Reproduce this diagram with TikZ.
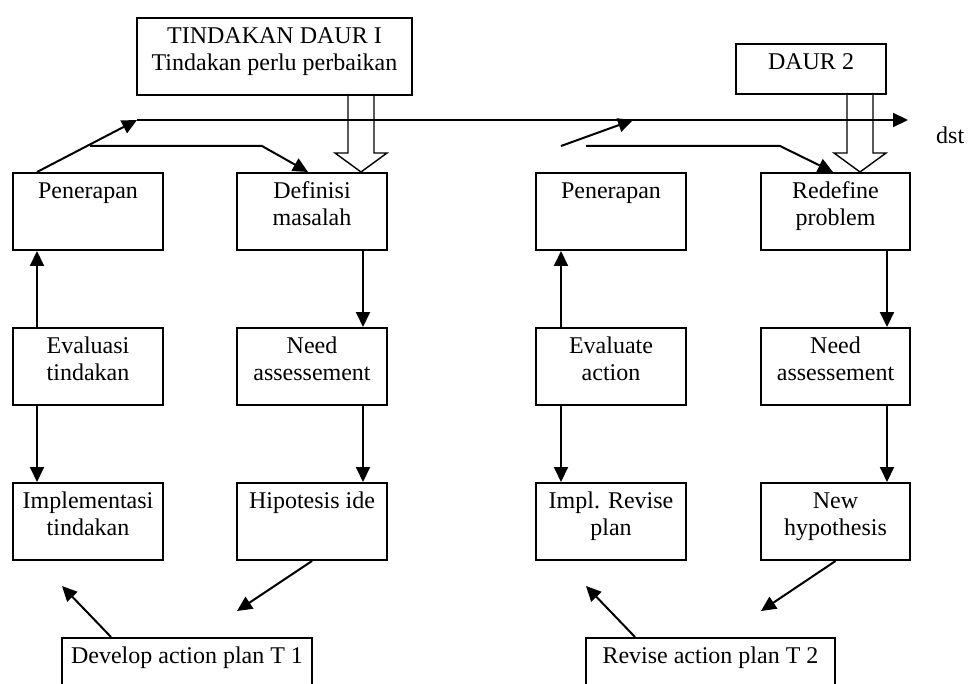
\documentclass[tikz,border=0pt]{standalone}
\usepackage{fontspec}
\setmainfont{Liberation Serif}
\usetikzlibrary{arrows.meta}
\newcommand{\bx}[3]{\parbox[t][#2pt][t]{#1pt}{\vspace*{7pt}\centering\strut #3\par}}
\tikzset{
  box/.style={draw, line width=2pt, inner sep=0pt, anchor=north west,
    font=\fontsize{24}{27}\selectfont},
  arr/.style={line width=2pt, -{Triangle[length=15pt,width=14pt]}},
  ln/.style={line width=2pt},
  hollow/.style={line width=1.4pt, line join=miter},
  lbl/.style={inner sep=0pt, font=\fontsize{24}{27}\selectfont}
}
\begin{document}
\begin{tikzpicture}[x=1pt,y=-1pt]
\clip (0,0) rectangle (976,684);
\fill[white] (0,0) rectangle (976,684);
% top boxes
\node[box] (daur1) at (136,17) {\bx{275}{77}{TINDAKAN DAUR I\\Tindakan perlu perbaikan}};
\node[box] (daur2) at (735,43) {\bx{150}{50}{DAUR 2}};
% cycle 1
\node[box] (pen1) at (12,172) {\bx{150}{77}{Penerapan}};
\node[box] (ev1) at (12,327) {\bx{150}{77}{Evaluasi\\tindakan}};
\node[box] (imp1) at (12,482) {\bx{150}{77}{Implementasi\\tindakan}};
\node[box] (def1) at (236,172) {\bx{150}{77}{Definisi\\masalah}};
\node[box] (need1) at (236,327) {\bx{150}{77}{Need\\assessement}};
\node[box] (hip1) at (236,482) {\bx{150}{77}{Hipotesis ide}};
\node[box] (dev) at (61,637) {\bx{250}{77}{Develop action plan T 1}};
% cycle 2
\node[box] (pen2) at (535,172) {\bx{150}{77}{Penerapan}};
\node[box] (ev2) at (535,327) {\bx{150}{77}{Evaluate\\action}};
\node[box] (imp2) at (535,482) {\bx{150}{77}{Impl. Revise\\plan}};
\node[box] (red2) at (760,172) {\bx{149}{77}{Redefine\\problem}};
\node[box] (need2) at (760,327) {\bx{149}{77}{Need\\assessement}};
\node[box] (hyp2) at (760,482) {\bx{149}{77}{New\\hypothesis}};
\node[box] (rev) at (585,637) {\bx{249}{77}{Revise action plan T 2}};
\node[lbl, anchor=base west] (dst) at (936,144) {dst};
% coordinates
\coordinate (l1) at (137,120);
\coordinate (lend) at (908,120);
\coordinate (m1) at (90,146);
\coordinate (m2) at (262,146);
\coordinate (r0) at (561,146);
\coordinate (r1) at (633,120);
\coordinate (n1) at (586,146);
\coordinate (n2) at (780,146);
\coordinate (t1) at (62,586);
\coordinate (t2) at (237,611);
\coordinate (t3) at (586,586);
\coordinate (t4) at (761,611);
% top line and arrows
\draw[arr] ([xshift=25pt]pen1.north west) -- (l1);
\draw[arr] (l1) -- (lend);
\draw[arr] (m1) -- (m2) -- ([xshift=72pt]def1.north west);
\draw[arr] (r0) -- (r1);
\draw[arr] (n1) -- (n2) -- ([xshift=73pt]red2.north west);
% hollow arrows
\path ([xshift=125pt]def1.north west) coordinate (h1);
\draw[hollow] (h1) ++(-13,-78) -- ++(0,59) -- ++(-13,0) -- (h1) -- ++(26,-19) -- ++(-13,0) -- ++(0,-59);
\path ([xshift=100pt]red2.north west) coordinate (h2);
\draw[hollow] (h2) ++(-13,-79) -- ++(0,60) -- ++(-13,0) -- (h2) -- ++(26,-19) -- ++(-13,0) -- ++(0,-60);
% vertical arrows cycle 1
\draw[arr] ([xshift=25pt]ev1.north west) -- ([xshift=25pt]pen1.south west);
\draw[arr] ([xshift=25pt]ev1.south west) -- ([xshift=25pt]imp1.north west);
\draw[arr] ([xshift=-25pt]def1.south east) -- ([xshift=-25pt]need1.north east);
\draw[arr] ([xshift=-25pt]need1.south east) -- ([xshift=-25pt]hip1.north east);
% vertical arrows cycle 2
\draw[arr] ([xshift=26pt]ev2.north west) -- ([xshift=26pt]pen2.south west);
\draw[arr] ([xshift=26pt]ev2.south west) -- ([xshift=26pt]imp2.north west);
\draw[arr] ([xshift=-24pt]red2.south east) -- ([xshift=-24pt]need2.north east);
\draw[arr] ([xshift=-24pt]need2.south east) -- ([xshift=-24pt]hyp2.north east);
% bottom diagonals
\draw[arr] ([xshift=50pt]dev.north west) -- (t1);
\draw[arr] (hip1.south) -- (t2);
\draw[arr] ([xshift=50pt]rev.north west) -- (t3);
\draw[arr] (hyp2.south) -- (t4);
\end{tikzpicture}
\end{document}
